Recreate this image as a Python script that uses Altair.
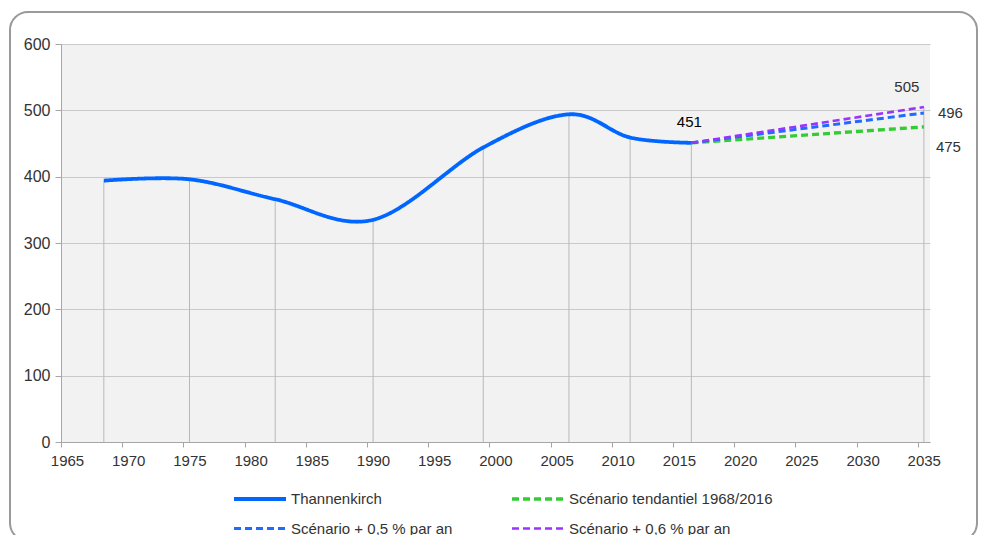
import altair as alt
import pandas as pd

# ---- data ----
years = [1968, 1975, 1982, 1990, 1999, 2006, 2011, 2016]
population = [394, 396, 366, 335, 444, 494, 459, 451]

series_names = [
    "Thannenkirch",
    "Scénario tendantiel 1968/2016",
    "Scénario + 0,5 % par an",
    "Scénario + 0,6 % par an",
]
series_colors = ["#0066ff", "#33cc33", "#1f6bff", "#9933ff"]
series_dashes = [[1, 0], [7, 4], [7, 4], [7, 4]]
series_widths = [3.8, 2.6, 2.6, 2.6]

proj_names = series_names[1:]
proj_start_year = 2016
proj_start_value = 451
proj_end_year = 2035
proj_end_values = [475, 496, 505]

x_ticks = list(range(1965, 2036, 5))
y_ticks = [0, 100, 200, 300, 400, 500, 600]

FONT = "Liberation Sans"

# ---- tables built from the arrays ----
main_df = pd.DataFrame({"year": years, "value": population, "series": series_names[0]})

proj_rows = []
for name, end in zip(proj_names, proj_end_values):
    proj_rows.append({"year": proj_start_year, "value": proj_start_value, "series": name})
    proj_rows.append({"year": proj_end_year, "value": end, "series": name})
proj_df = pd.DataFrame(proj_rows)

drop_df = pd.DataFrame({
    "year": years + [proj_end_year],
    "value": population + [max(proj_end_values)],
})

label_df = pd.DataFrame({
    "year": [proj_start_year] + [proj_end_year] * len(proj_end_values),
    "value": [proj_start_value] + proj_end_values,
    "key": ["start"] + proj_names,
})

x_scale = alt.Scale(domain=[1965, 2036], nice=False, zero=False)
y_scale = alt.Scale(domain=[0, 600], nice=False)

X = alt.X("xpos:Q", scale=x_scale,
          axis=alt.Axis(values=x_ticks, format="d", grid=False, title=None,
                        tickSize=5, labelPadding=6, labelFlush=False,
                        labelOffset=6, labelFontSize=15))
Y = alt.Y("value:Q", scale=y_scale,
          axis=alt.Axis(values=y_ticks, grid=True, title=None,
                        tickSize=6, labelPadding=5, labelFontSize=16))

color = alt.Color("series:N", scale=alt.Scale(domain=series_names, range=series_colors),
                  legend=alt.Legend(
                      title=None, orient="none", legendX=184, legendY=440,
                      direction="horizontal", columns=2,
                      symbolType="M-2,0H2", symbolSize=676,
                      symbolStrokeWidth=3, labelFont=FONT, labelFontSize=15,
                      labelColor="#333333", labelOffset=16, columnPadding=52,
                      rowPadding=7, labelLimit=400))
dash = alt.StrokeDash("series:N", scale=alt.Scale(domain=series_names, range=series_dashes),
                      legend=alt.Legend(title=None))
width = alt.StrokeWidth("series:N", scale=alt.Scale(domain=series_names, range=series_widths),
                        legend=alt.Legend(title=None))

calc = dict(xpos="datum.year + 0.5")

frame = alt.Chart(alt.Data(values=[{"a": 1}])).mark_rect(
    fill=None, stroke="#9a9a9a", strokeWidth=2, cornerRadius=18, clip=False
).encode(x=alt.value(-51), x2=alt.value(916), y=alt.value(-32), y2=alt.value(497))

drops = alt.Chart(drop_df).transform_calculate(**calc).mark_rule(
    color="#b8b8b8", strokeWidth=1
).encode(x=X, y=Y, y2=alt.datum(0))

main_line = alt.Chart(main_df).transform_calculate(**calc).mark_line(
    interpolate="cardinal", tension=0
).encode(x=X, y=Y, color=color, strokeDash=dash, strokeWidth=width)

proj_lines = alt.Chart(proj_df).transform_calculate(**calc).mark_line().encode(
    x=X, y=Y, color=color, strokeDash=dash, strokeWidth=width,
    order=alt.Order("year:Q"))

label_style = {
    "start": dict(dx=-2, dy=-21, align="center", color="#000000"),
    proj_names[0]: dict(dx=12, dy=20, align="left", color="#333333"),
    proj_names[1]: dict(dx=14, dy=0, align="left", color="#333333"),
    proj_names[2]: dict(dx=-17, dy=-20, align="center", color="#333333"),
}
labels = []
for key, st in label_style.items():
    labels.append(
        alt.Chart(label_df).transform_filter(alt.datum.key == key)
        .transform_calculate(**calc)
        .mark_text(font=FONT, fontSize=15, baseline="middle", **st)
        .encode(x=X, y=Y, text=alt.Text("value:Q", format="d"))
    )

chart = alt.layer(frame, drops, main_line, proj_lines, *labels).properties(
    width=869, height=398,
    autosize=alt.AutoSizeParams(type="none"),
    padding={"left": 53, "top": 36, "right": 49, "bottom": 93},
    background="#ffffff",
).configure_view(fill="#f2f2f2", stroke=None).configure_axis(
    labelFont=FONT, labelColor="#333333",
    domainColor="#a6a6a6", tickColor="#a6a6a6", gridColor="#c9c9c9",
    gridWidth=1, domainWidth=1,
)

chart.save("out.html", embed_options={"renderer": "svg", "actions": False})
